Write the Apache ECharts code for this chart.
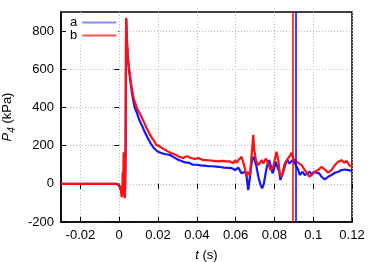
<!DOCTYPE html>
<html><head><meta charset="utf-8">
<script src="https://cdn.jsdelivr.net/npm/echarts@6/dist/echarts.min.js"></script>
<style>html,body{margin:0;padding:0;background:#fff}#c{width:374px;height:262px}</style>
</head><body><div id="c"></div>
<script>
const seriesNames = ['a', 'b'];
const xTicks = [-0.02, 0, 0.02, 0.04, 0.06, 0.08, 0.1, 0.12];
const yTicks = [-200, 0, 200, 400, 600, 800];
const tA = [-0.03,-0.002,-0.0005,0,0.0005,0.001,0.0015,0.002,0.0025,0.003,0.0033,0.0035,0.0036,0.0038,0.004,0.0045,0.005,0.0055,0.006,0.0065,0.007,0.0075,0.008,0.009,0.010,0.011,0.012,0.013,0.014,0.015,0.016,0.017,0.018,0.019,0.020,0.021,0.022,0.023,0.024,0.025,0.026,0.027,0.028,0.029,0.030,0.031,0.032,0.033,0.034,0.035,0.036,0.037,0.038,0.039,0.040,0.041,0.042,0.043,0.044,0.045,0.046,0.047,0.048,0.049,0.050,0.051,0.052,0.053,0.054,0.055,0.056,0.057,0.058,0.0589,0.0597,0.0605,0.0614,0.0622,0.063,0.0648,0.0656,0.0665,0.0674,0.0682,0.0691,0.0699,0.0708,0.0717,0.0729,0.0737,0.0746,0.0756,0.0765,0.0773,0.078,0.079,0.0797,0.0806,0.0814,0.0825,0.0831,0.0842,0.0854,0.0866,0.0877,0.0885,0.0894,0.0906,0.0914,0.0923,0.0931,0.0945,0.0957,0.097,0.0983,0.0993,0.1003,0.1017,0.1031,0.1043,0.106,0.1077,0.1094,0.1112,0.1129,0.1146,0.1163,0.118,0.12];
const pA = [0,0,-3,-8,-20,-40,-55,-62,-50,-40,150,700,865,800,740,650,600,560,520,480,450,425,400,375,345,320,300,275,255,235,215,200,185,175,168,170,160,162,155,150,152,143,140,135,128,126,120,118,112,108,110,104,100,103,100,102,97,98,95,97,92,90,92,88,90,86,88,84,85,80,84,80,82,81,72,81,85,89,55,63,46,-33,37,107,142,124,89,37,-7,-24,2,63,107,124,98,55,72,116,107,63,20,55,107,124,107,98,124,107,116,72,46,63,46,55,63,46,63,58,55,37,23,37,46,58,63,72,75,72,68];
const tB = [-0.03,-0.002,-0.0005,0,0.0005,0.001,0.0013,0.0016,0.0018,0.002,0.0023,0.0025,0.0028,0.003,0.0033,0.0035,0.0036,0.0038,0.004,0.0045,0.005,0.0055,0.006,0.0065,0.007,0.0075,0.008,0.009,0.010,0.011,0.012,0.013,0.014,0.015,0.016,0.017,0.018,0.019,0.020,0.021,0.022,0.023,0.024,0.025,0.026,0.027,0.028,0.029,0.030,0.031,0.032,0.033,0.034,0.035,0.036,0.037,0.038,0.039,0.040,0.041,0.042,0.043,0.044,0.045,0.046,0.047,0.048,0.049,0.050,0.051,0.052,0.053,0.054,0.055,0.056,0.057,0.058,0.0589,0.0597,0.0605,0.0614,0.0631,0.0648,0.0656,0.0665,0.0674,0.0682,0.0691,0.0696,0.0705,0.0717,0.0734,0.0743,0.0756,0.0768,0.078,0.0794,0.0811,0.082,0.0828,0.0837,0.0849,0.0863,0.0877,0.0888,0.0897,0.0905,0.0914,0.0923,0.094,0.0957,0.097,0.098,0.0991,0.1008,0.1026,0.1043,0.106,0.1077,0.1094,0.1112,0.1129,0.1146,0.116,0.1172,0.1186,0.12];
const pB = [0,0,-3,-8,-15,-40,-70,-50,60,-30,165,-40,-75,-60,200,720,870,810,750,660,610,575,535,500,470,448,430,400,380,362,340,318,295,275,255,238,225,205,200,195,185,182,176,170,172,160,162,152,148,142,140,135,130,145,148,135,128,130,128,135,130,125,130,124,126,122,125,120,124,118,115,120,122,118,125,118,110,107,124,110,124,142,81,37,63,45,142,256,177,124,98,124,107,133,107,72,89,168,124,55,37,72,124,142,163,133,124,116,107,98,72,55,37,46,63,72,89,75,58,72,98,116,124,110,120,98,89];
const vLineA = 0.091;
const vLineB = 0.0895;

const font = 'Liberation Sans, Arial, sans-serif';
const mk = (t, p) => t.map((v, i) => [v, p[i]]);
const chart = echarts.init(document.getElementById('c'), null, {renderer: 'canvas'});
const tickCommon = {inside: true, length: 5, lineStyle: {color: '#000', width: 1}};
chart.setOption({
  animation: false,
  backgroundColor: '#fff',
  grid: {left: 61, right: 22, top: 12, bottom: 40, outerBoundsMode: 'none', containLabel: false, show: true, borderColor: '#000', borderWidth: 1.5, backgroundColor: 'transparent'},
  legend: {
    orient: 'vertical', left: 66, top: 15, align: 'right', itemWidth: 34, itemHeight: 2, itemGap: 0,
    backgroundColor: '#fff', padding: [1, 2, 2, 4],
    textStyle: {fontFamily: font, fontSize: 13, color: '#000'},
    data: [{name: seriesNames[0], icon: 'rect', itemStyle: {color: '#8c8cff'}},
           {name: seriesNames[1], icon: 'rect', itemStyle: {color: '#ff5050'}}]
  },
  xAxis: [{
    type: 'value', min: -0.03, max: 0.12, position: 'bottom',
    axisLine: {show: true, onZero: false, lineStyle: {color: '#000', width: 1.5}},
    axisTick: Object.assign({customValues: xTicks}, tickCommon),
    axisLabel: {customValues: xTicks, fontFamily: font, fontSize: 13, color: '#000', margin: 7, formatter: v => String(+v.toFixed(2))},
    splitLine: {show: true, lineStyle: {color: '#bbb', type: [1, 2], width: 1}},
    name: '{i|t} (s)', nameLocation: 'middle', nameGap: 27,
    nameTextStyle: {fontFamily: font, fontSize: 13, color: '#000', rich: {i: {fontStyle: 'italic', fontFamily: font, fontSize: 13}}}
  }, {
    type: 'value', min: -0.03, max: 0.12, position: 'top',
    axisLine: {show: false}, axisLabel: {show: false}, splitLine: {show: false},
    axisTick: Object.assign({customValues: xTicks}, tickCommon)
  }],
  yAxis: [{
    type: 'value', min: -200, max: 900, interval: 200, position: 'left',
    axisLine: {show: true, onZero: false, lineStyle: {color: '#000', width: 1.5}},
    axisTick: Object.assign({customValues: yTicks}, tickCommon),
    axisLabel: {customValues: yTicks, fontFamily: font, fontSize: 13, color: '#000', margin: 7},
    splitLine: {show: true, lineStyle: {color: '#bbb', type: [1, 2], width: 1}},
    name: '{i|P}{s|4} (kPa)', nameLocation: 'middle', nameGap: 39, nameRotate: 90,
    nameTextStyle: {fontFamily: font, fontSize: 13, color: '#000',
      rich: {i: {fontStyle: 'italic', fontFamily: font, fontSize: 13},
             s: {fontStyle: 'italic', fontFamily: font, fontSize: 10, verticalAlign: 'bottom', lineHeight: 20}}}
  }, {
    type: 'value', min: -200, max: 900, interval: 200, position: 'right',
    axisLine: {show: false}, axisLabel: {show: false}, splitLine: {show: false},
    axisTick: Object.assign({customValues: yTicks}, tickCommon)
  }],
  series: [{
    name: seriesNames[0], type: 'line', data: mk(tA, pA), showSymbol: false, symbol: 'none',
    lineStyle: {color: '#1414ff', width: 2.2}, itemStyle: {color: '#1414ff'}, z: 3
  }, {
    name: seriesNames[1], type: 'line', data: mk(tB, pB), showSymbol: false, symbol: 'none',
    lineStyle: {color: '#ff1010', width: 2.2}, itemStyle: {color: '#ff1010'}, z: 4,
    markLine: {silent: true, symbol: 'none', precision: 5, label: {show: false}, lineStyle: {width: 1.5, type: 'solid'},
      data: [{xAxis: vLineB, lineStyle: {color: '#ff0000', width: 1.5, type: 'solid'}},
             {xAxis: vLineA, lineStyle: {color: '#0000ff', width: 1.5, type: 'solid'}}]}
  }]
});
</script></body></html>
